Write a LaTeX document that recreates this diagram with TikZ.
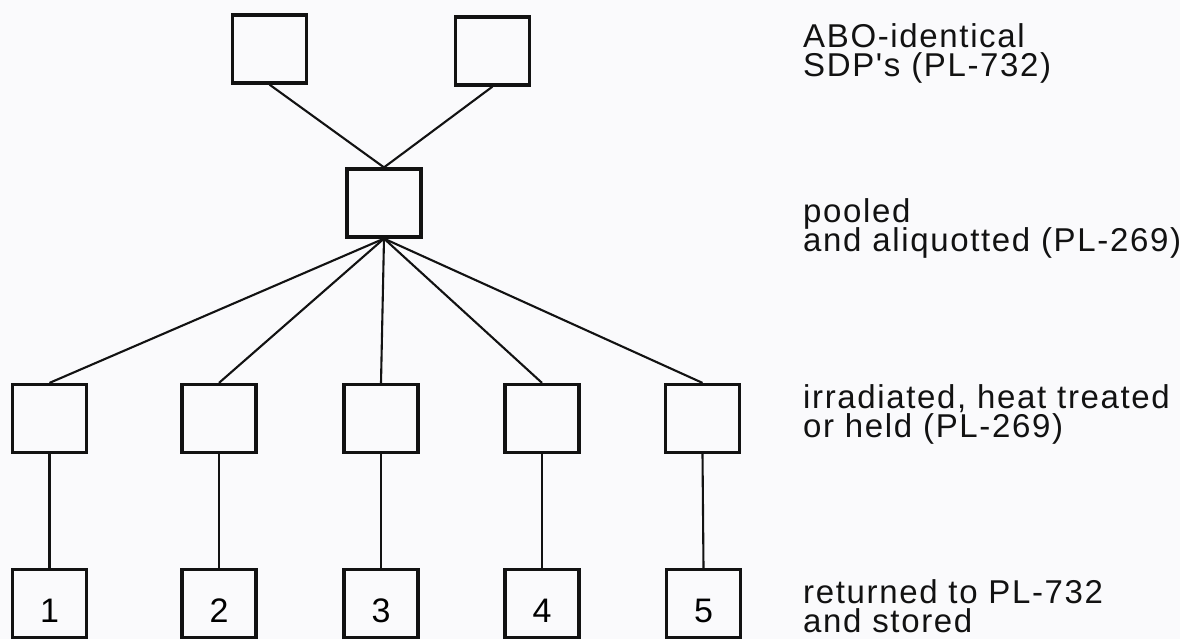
\documentclass[tikz,border=0pt]{standalone}
\usepackage{fontspec}
% Plain family: no TeX ligature mapping, so ' stays a straight apostrophe
\newfontfamily\labelfont{Liberation Sans}[LetterSpace=5]
\definecolor{paper}{RGB}{250,250,252}
\definecolor{ink}{RGB}{18,18,18}
\newcommand\firstline{\rule{0pt}{26pt}}
\newcommand\tightlines{\setlength{\lineskiplimit}{-50pt}\setlength{\lineskip}{0pt}}
\begin{document}
\begin{tikzpicture}[x=1pt,y=-1pt,
  box/.style={draw=ink, line width=3.2pt, minimum width=74pt, minimum height=68pt, inner sep=0pt},
  numbox/.style={box, text height=37pt, text depth=0pt, font=\labelfont\fontsize{34}{36}\selectfont},
  link/.style={draw=ink, line width=2.1pt},
  lbl/.style={anchor=north west, inner sep=0pt, align=left, text=ink,
              font=\labelfont\fontsize{33}{29.5}\selectfont\tightlines}]
\fill[paper] (0,0) rectangle (1180,639);
\useasboundingbox (0,0) rectangle (1180,639);

% donor units
\node[box] (d1) at (269.5,49) {};
\node[box] (d2) at (492.5,51) {};
% pool
\node[box] (pool) at (384,203) {};
% treated aliquots
\node[box] (t1) at (49.5,418.5) {};
\node[box] (t2) at (219,418.5) {};
\node[box] (t3) at (381,418.5) {};
\node[box] (t4) at (542,418.5) {};
\node[box] (t5) at (702.5,418.5) {};
% returned units
\node[numbox] (r1) at (49.5,603.5) {1};
\node[numbox] (r2) at (219,603.5) {2};
\node[numbox] (r3) at (381,603.5) {3};
\node[numbox] (r4) at (542,603.5) {4};
\node[numbox] (r5) at (703.5,603.5) {5};

% connectors
\draw[link] (d1.south) -- (pool.north);
\draw[link] (d2.south) -- (pool.north);
\foreach \i in {1,...,5}{
  \draw[link] (pool.south) -- (t\i.north);
  \draw[link] (t\i.south) -- (r\i.north);
}

% stage descriptions (top of node = first baseline - 26pt)
\node[lbl] (a) at (803,21)  {\firstline ABO-identical\\SDP's (PL-732)};
\node[lbl] (b) at (803,196) {\firstline pooled\\and aliquotted (PL-269)};
\node[lbl] (c) at (803,382) {\firstline irradiated, heat treated\\or held (PL-269)};
\node[lbl] (e) at (803,577) {\firstline returned to PL-732\\and stored};
\end{tikzpicture}
\end{document}
